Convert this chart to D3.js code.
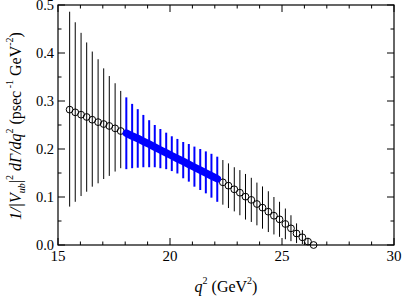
<!DOCTYPE html>
<html><head><meta charset="utf-8">
<script src="https://cdn.jsdelivr.net/npm/d3@7"></script>
<style>html,body{margin:0;padding:0;background:#fff;}svg{display:block;}</style>
</head><body>
<script>
// ---- data ----
const qLeft = [15.52, 15.77, 16.03, 16.28, 16.53, 16.79, 17.04, 17.29, 17.55, 17.80];
const yLeft = [0.282, 0.2764, 0.2715, 0.2667, 0.261, 0.256, 0.252, 0.248, 0.243, 0.2375];
const hiLeft = [0.486, 0.464, 0.442, 0.422, 0.403, 0.387, 0.368, 0.352, 0.337, 0.321];
const loLeft = [0.080, 0.090, 0.102, 0.111, 0.1215, 0.1285, 0.1375, 0.144, 0.153, 0.160];

const qBlue = [18.05, 18.31, 18.56, 18.81, 19.07, 19.32, 19.57, 19.83, 20.08, 20.33, 20.59, 20.84, 21.09, 21.35, 21.60, 21.85, 22.11];
const yBlue = [0.233, 0.227, 0.222, 0.216, 0.210, 0.204, 0.198, 0.192, 0.186, 0.180, 0.174, 0.168, 0.162, 0.156, 0.150, 0.144, 0.138];
const hiBlue = [0.3076, 0.294, 0.283, 0.271, 0.260, 0.250, 0.2417, 0.234, 0.2265, 0.221, 0.2146, 0.2104, 0.205, 0.200, 0.195, 0.190, 0.184];
const loBlue = [0.158, 0.160, 0.161, 0.162, 0.162, 0.162, 0.160, 0.158, 0.154, 0.149, 0.139, 0.132, 0.1215, 0.1146, 0.1076, 0.0986, 0.090];

const qRight = [22.36, 22.61, 22.87, 23.12, 23.37, 23.63, 23.88, 24.13, 24.39, 24.64, 24.89, 25.15, 25.40, 25.65, 25.91, 26.16, 26.41];
const yRight = [0.1306, 0.1236, 0.116, 0.109, 0.1007, 0.094, 0.0854, 0.0778, 0.0694, 0.061, 0.0535, 0.0438, 0.0347, 0.024, 0.016, 0.007, 0.0];
const hiRight = [0.177, 0.170, 0.162, 0.156, 0.148, 0.140, 0.130, 0.122, 0.112, 0.100, 0.090, 0.076, 0.062, 0.045, 0.031, 0.015, 0.0];
const loRight = [0.084, 0.077, 0.070, 0.062, 0.053, 0.048, 0.041, 0.034, 0.027, 0.022, 0.017, 0.012, 0.008, 0.004, 0.002, 0.0, 0.0];

const xTicks = [15, 20, 25, 30];
const yTicks = [0.0, 0.1, 0.2, 0.3, 0.4, 0.5];

// ---- layout ----
const W = 403, H = 298;
const L = 58, R = 394, T = 5, B = 245;
const font = "'Liberation Serif', 'DejaVu Serif', serif";

const x = d3.scaleLinear().domain([15, 30]).range([L, R]);
const y = d3.scaleLinear().domain([0, 0.5]).range([B, T]);

const svg = d3.select("body").append("svg").attr("width", W).attr("height", H);

const zip = (qs, ys, his, los) => qs.map((q, i) => ({q, y: ys[i], hi: his[i], lo: los[i]}));
const black = zip(qLeft, yLeft, hiLeft, loLeft).concat(zip(qRight, yRight, hiRight, loRight));
const blue = zip(qBlue, yBlue, hiBlue, loBlue);

// black error bars
svg.append("g").selectAll("line").data(black).join("line")
  .attr("x1", d => x(d.q)).attr("x2", d => x(d.q))
  .attr("y1", d => y(d.hi)).attr("y2", d => y(d.lo))
  .attr("stroke", "#000").attr("stroke-width", 1);

// black circles
svg.append("g").selectAll("circle").data(black).join("circle")
  .attr("cx", d => x(d.q)).attr("cy", d => y(d.y)).attr("r", 3.4)
  .attr("fill", "none").attr("stroke", "#000").attr("stroke-width", 1);

// blue error bars
svg.append("g").selectAll("line").data(blue).join("line")
  .attr("x1", d => x(d.q)).attr("x2", d => x(d.q))
  .attr("y1", d => y(d.hi)).attr("y2", d => y(d.lo))
  .attr("stroke", "#0000ff").attr("stroke-width", 2);

// blue thick band of filled markers
svg.append("path").datum(blue)
  .attr("d", d3.line().x(d => x(d.q)).y(d => y(d.y)))
  .attr("fill", "none").attr("stroke", "#0000ff").attr("stroke-width", 7.5)
  .attr("stroke-linecap", "round").attr("stroke-linejoin", "round");

// frame
svg.append("rect").attr("x", L).attr("y", T).attr("width", R - L).attr("height", B - T)
  .attr("fill", "none").attr("stroke", "#000").attr("stroke-width", 1.2);

// ticks (inward, on all four sides)
const xMinor = d3.range(15, 30.01, 1);
const yMinor = d3.range(0, 0.501, 0.05);
const tk = svg.append("g").attr("stroke", "#000").attr("stroke-width", 1);
xMinor.forEach(v => {
  const len = Math.round(v) % 5 === 0 ? 7 : 3.5;
  tk.append("line").attr("x1", x(v)).attr("x2", x(v)).attr("y1", B).attr("y2", B - len);
  tk.append("line").attr("x1", x(v)).attr("x2", x(v)).attr("y1", T).attr("y2", T + len);
});
yMinor.forEach(v => {
  const major = Math.abs(v * 10 - Math.round(v * 10)) < 1e-6;
  const len = major ? 7 : 3.5;
  tk.append("line").attr("x1", L).attr("x2", L + len).attr("y1", y(v)).attr("y2", y(v));
  tk.append("line").attr("x1", R).attr("x2", R - len).attr("y1", y(v)).attr("y2", y(v));
});

// tick labels
svg.append("g").selectAll("text").data(xTicks).join("text")
  .attr("x", d => x(d)).attr("y", B + 16).attr("text-anchor", "middle")
  .attr("font-family", font).attr("font-size", 15).text(d => d);
svg.append("g").selectAll("text").data(yTicks).join("text")
  .attr("x", L - 4).attr("y", d => y(d) + 5).attr("text-anchor", "end")
  .attr("font-family", font).attr("font-size", 14.5).text(d => d.toFixed(1));

// x title
const xt = svg.append("text").attr("x", 226).attr("y", 292).attr("text-anchor", "middle")
  .attr("font-family", font).attr("font-size", 16);
xt.append("tspan").attr("font-style", "italic").text("q");
xt.append("tspan").attr("font-size", 10).attr("dy", -8).text("2");
xt.append("tspan").attr("dy", 8).text(" (GeV");
xt.append("tspan").attr("font-size", 10).attr("dy", -8).text("2");
xt.append("tspan").attr("dy", 8).text(")");

// y title
const yt = svg.append("text").attr("transform", "translate(21,126) rotate(-90)")
  .attr("text-anchor", "middle").attr("font-family", font).attr("font-size", 16);
yt.append("tspan").attr("font-style", "italic").text("1/|V");
yt.append("tspan").attr("font-style", "italic").attr("font-size", 10).attr("dy", 4).text("ub");
yt.append("tspan").attr("dy", -4).text("|");
yt.append("tspan").attr("font-size", 10).attr("dy", -8).text("2");
yt.append("tspan").attr("font-style", "italic").attr("dy", 8).text(" dΓ/dq");
yt.append("tspan").attr("font-size", 10).attr("dy", -8).text("2");
yt.append("tspan").attr("dy", 8).text(" (psec");
yt.append("tspan").attr("font-size", 10).attr("dy", -8).text(" -1");
yt.append("tspan").attr("dy", 8).text(" GeV");
yt.append("tspan").attr("font-size", 10).attr("dy", -8).text("-2");
yt.append("tspan").attr("dy", 8).text(")");
</script>
</body></html>
